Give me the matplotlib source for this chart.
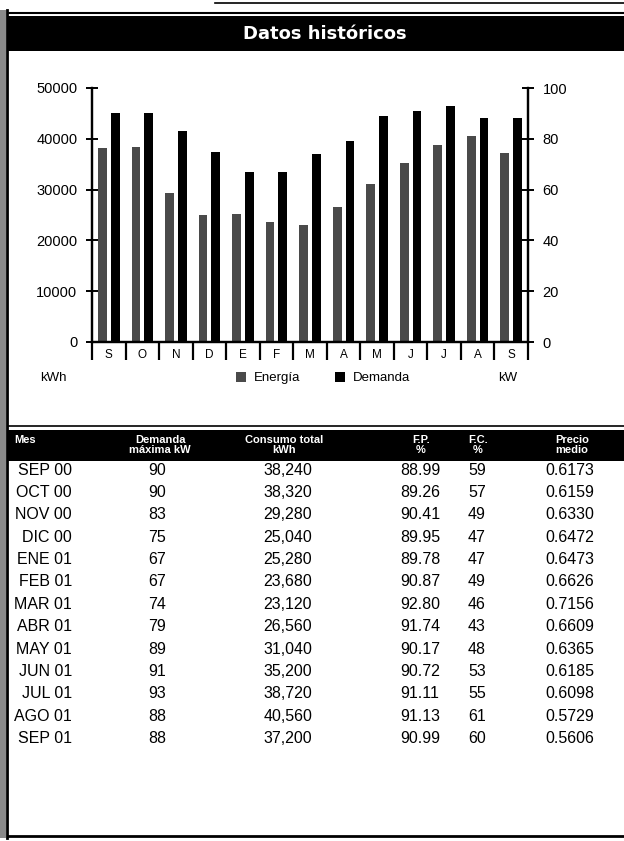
"""Datos historicos: consumo de energia y demanda mensual, con tabla."""

import matplotlib
matplotlib.use("Agg")
import matplotlib.pyplot as plt
import matplotlib.patches as mpatches
import numpy as np

W, H = 624, 841
FONT = "Liberation Sans"
GRAY_BAR = "#4a4a4a"

# Datos
meses_cortos = ["S", "O", "N", "D", "E", "F", "M", "A", "M", "J", "J", "A", "S"]
meses = ["SEP 00", "OCT 00", "NOV 00", "DIC 00", "ENE 01", "FEB 01", "MAR 01",
         "ABR 01", "MAY 01", "JUN 01", "JUL 01", "AGO 01", "SEP 01"]
demanda = [90, 90, 83, 75, 67, 67, 74, 79, 89, 91, 93, 88, 88]
consumo = [38240, 38320, 29280, 25040, 25280, 23680, 23120, 26560, 31040,
           35200, 38720, 40560, 37200]
fp = [88.99, 89.26, 90.41, 89.95, 89.78, 90.87, 92.80, 91.74, 90.17, 90.72,
      91.11, 91.13, 90.99]
fc = [59, 57, 49, 47, 47, 49, 46, 43, 48, 53, 55, 61, 60]
precio = [0.6173, 0.6159, 0.6330, 0.6472, 0.6473, 0.6626, 0.7156, 0.6609,
          0.6365, 0.6185, 0.6098, 0.5729, 0.5606]

kwh_ticks = [0, 10000, 20000, 30000, 40000, 50000]
kw_ticks = [0, 20, 40, 60, 80, 100]


def px_rect(x0, y0, x1, y1):
    """Pixel box (top-left origin) -> figure axes rect."""
    return [x0 / W, 1 - y1 / H, (x1 - x0) / W, (y1 - y0) / H]


fig = plt.figure(figsize=(W / 100, H / 100), dpi=100)
fig.patch.set_facecolor("white")

# --- fondo: marcos, barras negras, tabla ---
bg = fig.add_axes([0, 0, 1, 1])
bg.set_xlim(0, W)
bg.set_ylim(H, 0)
bg.axis("off")

# borde izquierdo escaneado
bg.add_patch(mpatches.Rectangle((0, 10), 6, 828, facecolor="#8a8a8a", edgecolor="none"))
bg.plot([7, 7], [10, 838], color="black", lw=2)
bg.plot([8, W], [13, 13], color="black", lw=1.5)
bg.plot([215, W], [3, 3], color="black", lw=1.2)
bg.plot([8, W], [836, 836], color="black", lw=2)

# barra del titulo
bg.add_patch(mpatches.Rectangle((8, 16), W - 8, 35, facecolor="black", edgecolor="none"))
bg.text(325, 34, "Datos históricos", color="white", fontsize=13, fontweight="bold",
        ha="center", va="center", fontfamily="DejaVu Sans")

# cabecera de la tabla
bg.plot([8, W], [426, 426], color="black", lw=1.2)
bg.add_patch(mpatches.Rectangle((8, 430), W - 8, 31, facecolor="black", edgecolor="none"))
hdr = dict(color="white", fontsize=8, fontweight="bold", fontfamily=FONT, va="center")
bg.text(14, 440, "Mes", ha="left", **hdr)
bg.text(160, 445, "Demanda\nmáxima kW", ha="center", linespacing=0.95, **hdr)
bg.text(284, 445, "Consumo total\nkWh", ha="center", linespacing=0.95, **hdr)
bg.text(421, 445, "F.P.\n%", ha="center", linespacing=0.95, **hdr)
bg.text(478, 445, "F.C.\n%", ha="center", linespacing=0.95, **hdr)
bg.text(572, 445, "Precio\nmedio", ha="center", linespacing=0.95, **hdr)

# filas
row0, row_step = 470, 22.4
cell = dict(color="black", fontsize=11.5, fontfamily=FONT, va="center")
for i, m in enumerate(meses):
    y = row0 + i * row_step
    bg.text(72, y, m, ha="right", **cell)
    bg.text(157, y, f"{demanda[i]}", ha="center", **cell)
    bg.text(288, y, f"{consumo[i]:,}", ha="center", **cell)
    bg.text(420, y, f"{fp[i]:.2f}", ha="center", **cell)
    bg.text(477, y, f"{fc[i]}", ha="center", **cell)
    bg.text(570, y, f"{precio[i]:.4f}", ha="center", **cell)

# --- grafica de barras ---
ax = fig.add_axes(px_rect(92, 88, 528, 342))
ax2 = ax.twinx()
x = np.arange(len(meses_cortos))
bw = 0.26
b1 = ax.bar(x - 0.19, consumo, width=bw, color=GRAY_BAR, label="Energía")
b2 = ax2.bar(x + 0.19, demanda, width=bw, color="black", label="Demanda")

ax.set_xlim(-0.5, len(x) - 0.5)
ax.set_ylim(0, 50000)
ax2.set_ylim(0, 100)

for a in (ax, ax2):
    a.spines["top"].set_visible(False)
    for s in ("left", "right", "bottom"):
        a.spines[s].set_linewidth(1.6)
        a.spines[s].set_color("black")

ax.set_yticks(kwh_ticks)
ax.set_yticklabels([str(t) for t in kwh_ticks], fontsize=10.5, fontfamily=FONT)
ax2.set_yticks(kw_ticks)
ax2.set_yticklabels([str(t) for t in kw_ticks], fontsize=10.5, fontfamily=FONT)
ax.tick_params(axis="y", direction="inout", length=9, width=1.4, pad=6)
ax2.tick_params(axis="y", direction="inout", length=9, width=1.4, pad=6)

ax.set_xticks(np.arange(-0.5, len(x), 1.0))
ax.set_xticklabels([])
ax.tick_params(axis="x", which="major", direction="out", length=13, width=1.6)
ax.set_xticks(x, minor=True)
ax.set_xticklabels(meses_cortos, minor=True, fontsize=8.5, fontfamily=FONT)
ax.tick_params(axis="x", which="minor", length=0, pad=5)

# unidades y leyenda
bg.text(40, 378, "kWh", fontsize=9.5, fontfamily=FONT, va="center", ha="left")
bg.text(498, 378, "kW", fontsize=9.5, fontfamily=FONT, va="center", ha="left")
fig.legend(handles=[b1, b2], labels=["Energía", "Demanda"], ncol=2,
           loc="center", bbox_to_anchor=(323 / W, 1 - 378 / H), frameon=False,
           prop={"family": FONT, "size": 9.5}, handlelength=0.8, handleheight=0.8,
           handletextpad=0.6, columnspacing=2.6)

fig.savefig("out.png", dpi=100, facecolor="white")
plt.close()
